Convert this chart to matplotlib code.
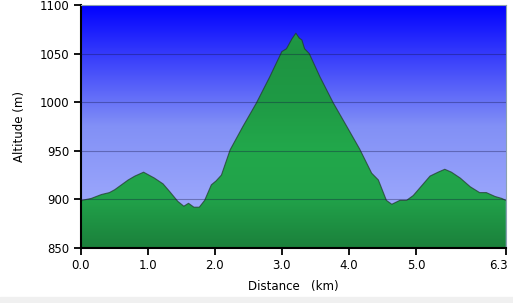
import numpy as np
import matplotlib
matplotlib.use("Agg")
import matplotlib.pyplot as plt
from matplotlib.colors import LinearSegmentedColormap
from matplotlib.transforms import ScaledTranslation

# elevation profile
dist_km = [0.00, 0.02, 0.16, 0.31, 0.43, 0.51, 0.71, 0.81, 0.94, 1.10, 1.23, 1.33,
           1.45, 1.54, 1.61, 1.69, 1.77, 1.85, 1.95, 2.02, 2.10, 2.23, 2.42, 2.62,
           2.82, 3.00, 3.07, 3.15, 3.21, 3.26, 3.30, 3.34, 3.41, 3.57, 3.77, 3.97,
           4.16, 4.34, 4.44, 4.56, 4.64, 4.76, 4.86, 4.96, 5.11, 5.21, 5.33, 5.43,
           5.53, 5.66, 5.81, 5.95, 6.05, 6.18, 6.28, 6.34]
alt_m = [895, 899, 901, 905, 907, 910, 920, 924, 928, 922, 916, 908,
         898, 893, 896, 892, 892, 899, 915, 919, 925, 951, 975, 999,
         1026, 1052, 1055, 1065, 1071, 1066, 1064, 1055, 1050, 1026, 999, 975,
         952, 927, 920, 899, 895, 899, 899, 904, 916, 924, 928, 931,
         928, 922, 913, 907, 907, 903, 901, 899]

x_ticks = [0.0, 1.0, 2.0, 3.0, 4.0, 5.0, 6.34]
x_labels = ["0.0", "1.0", "2.0", "3.0", "4.0", "5.0", "6.3"]
y_ticks = [850, 900, 950, 1000, 1050, 1100]

xmax = 6.34
ymin, ymax = 850, 1100

fig = plt.figure(figsize=(5.13, 3.03), dpi=100)
fig.patches.append(plt.Rectangle((0, 0), 1, 6 / 303, transform=fig.transFigure,
                                 color="#f0f0f0", zorder=0))
ax = fig.add_axes([0.157, 0.1815, 0.829, 0.802])

# blue sky gradient
sky = LinearSegmentedColormap.from_list("sky", ["#aab4ff", "#8290f6", "#0000ff"])
grad = np.linspace(0, 1, 256).reshape(-1, 1)
ax.imshow(grad, cmap=sky, origin="lower", aspect="auto",
          extent=[0, xmax, ymin, ymax], zorder=0)

# green fill with gradient, clipped to the profile
poly = ax.fill_between(dist_km, ymin, alt_m, color="none", lw=0)
greens = LinearSegmentedColormap.from_list(
    "gr", ["#1b803b", "#21a24a", "#22a84b", "#1f9a45", "#1e9442", "#22a04a"])
im = ax.imshow(grad, cmap=greens, origin="lower", aspect="auto",
               extent=[0, xmax, ymin, ymax], zorder=1)
im.set_clip_path(poly.get_paths()[0], transform=ax.transData)
ax.plot(dist_km, alt_m, color="#203828", lw=0.8, alpha=0.7, zorder=2)

for y in y_ticks[1:-1]:
    ax.axhline(y, color="#101040", lw=0.8, alpha=0.35, zorder=3)

ax.set_xlim(0, xmax)
ax.set_ylim(ymin, ymax)
ax.set_xticks(x_ticks)
ax.set_xticklabels(x_labels)
ax.set_yticks(y_ticks)
ax.tick_params(direction="out", length=5, width=1.3, labelsize=8.5, pad=3, colors="black")

# last label sits left of its tick so it stays inside the image
last = ax.get_xticklabels()[-1]
last.set_horizontalalignment("right")
last.set_transform(last.get_transform() + ScaledTranslation(2 / 100, 0, fig.dpi_scale_trans))

for side in ["left", "bottom"]:
    ax.spines[side].set_linewidth(1.5)
    ax.spines[side].set_color("black")
for side in ["top", "right"]:
    ax.spines[side].set_linewidth(0.8)
    ax.spines[side].set_color("#8aa0b0")

ax.set_xlabel("Distance   (km)", fontsize=8.5, labelpad=6)
ax.set_ylabel("Altitude (m)", fontsize=8.5, labelpad=10)

fig.savefig("out.png", dpi=100)
